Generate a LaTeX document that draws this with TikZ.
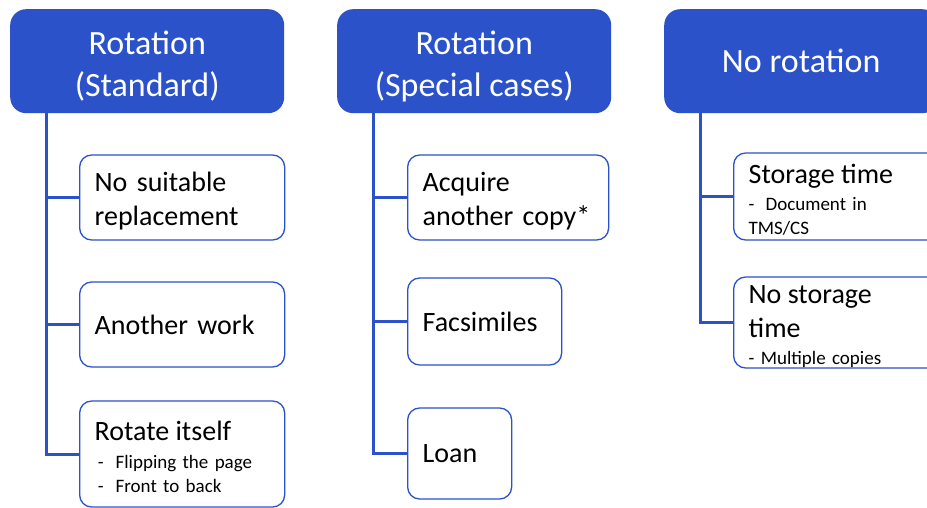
\documentclass[tikz,border=0pt]{standalone}
\usepackage{fontspec}
\setmainfont{Carlito}
\definecolor{rotblue}{RGB}{43,82,201}
\newcommand{\bigtxt}{\fontsize{28}{34}\selectfont}
\newcommand{\smalltxt}{\fontsize{19}{24}\selectfont}
\newcommand{\topgap}[1]{\rule{0pt}{#1}}

\begin{document}
\begin{tikzpicture}[x=1pt,y=-1pt,
  head/.style={fill=rotblue,text=white,rounded corners=16pt,minimum width=274pt,
    minimum height=104pt,anchor=north west,align=center,inner sep=0pt,
    font=\fontsize{34}{42}\selectfont},
  leaf/.style={draw=rotblue,fill=white,line width=1.3pt,rounded corners=12pt,
    anchor=west,align=left,text width=#1,inner xsep=15pt,inner ysep=0pt,font=\bigtxt},
  link/.style={rotblue,line width=3pt}]
\clip (0,0) rectangle (927,508);
\fill[white] (0,0) rectangle (927,508);

\node[head] (rs) at (10,9) {\topgap{34pt}Rotation\\(Standard)};
\node[head] (rsc) at (337,9) {\topgap{34pt}Rotation\\(Special cases)};
\node[head] (nr) at (664,9) {No rotation};

\coordinate (t1) at (46,113);
\coordinate (t2) at (373,113);
\coordinate (t3) at (700,113);

\node[leaf=175pt,minimum height=85pt] (ns) at (79,197.5) {\topgap{26pt}No suitable\\replacement};
\node[leaf=175pt,minimum height=85pt] (aw) at (79,324.5) {Another work};
\node[leaf=175pt,minimum height=106pt,font=\smalltxt] (ri) at (79,454)
  {\bigtxt\topgap{26pt}Rotate itself\\[4pt]\smalltxt\makebox[21pt][l]{\,-}Flipping the page\\
   \makebox[21pt][l]{\,-}Front to back};

\node[leaf=171pt,minimum height=85pt] (ac) at (407,197.5) {\topgap{26pt}Acquire\\another copy*};
\node[leaf=124pt,minimum height=87pt] (fa) at (407,321.5) {Facsimiles};
\node[leaf=74pt,minimum height=91pt] (lo) at (407,453.5) {Loan};

\node[leaf=200pt,minimum height=87pt,font=\smalltxt] (st) at (733,196.5)
  {\bigtxt\topgap{26pt}Storage time\\[3pt]\smalltxt\makebox[17pt][l]{-}Document in\\TMS/CS};
\node[leaf=200pt,minimum height=91pt,font=\smalltxt] (nst) at (733,322.5)
  {\bigtxt\topgap{26pt}No storage\\time\\[3pt]\smalltxt - Multiple copies};

\draw[link] (t1) |- (ri.west);
\draw[link] (t1 |- ns.west) -- (ns.west);
\draw[link] (t1 |- aw.west) -- (aw.west);

\draw[link] (t2) |- (lo.west);
\draw[link] (t2 |- ac.west) -- (ac.west);
\draw[link] (t2 |- fa.west) -- (fa.west);

\draw[link] (t3) |- (nst.west);
\draw[link] (t3 |- st.west) -- (st.west);
\end{tikzpicture}
\end{document}
